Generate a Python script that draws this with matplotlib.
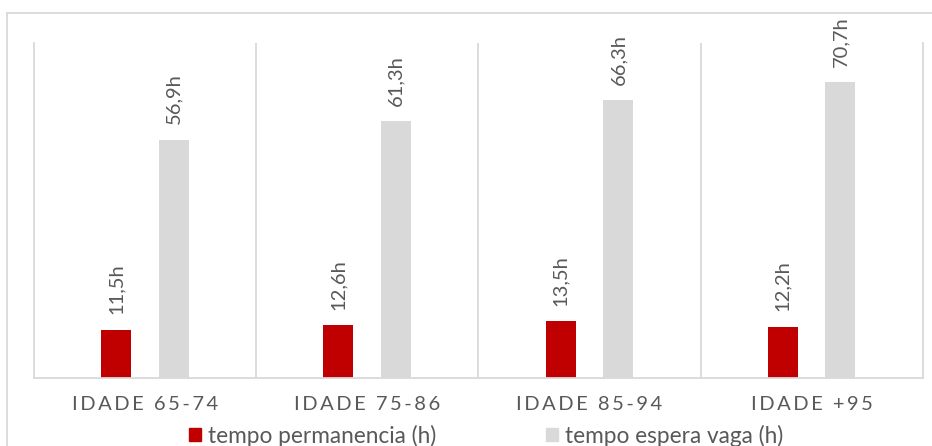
import matplotlib
matplotlib.use("Agg")
import matplotlib.pyplot as plt
from matplotlib.lines import Line2D
from matplotlib.patches import Patch
import numpy as np

categorias = ["IDADE 65-74", "IDADE 75-86", "IDADE 85-94", "IDADE +95"]
permanencia = [11.5, 12.6, 13.5, 12.2]
espera_vaga = [56.9, 61.3, 66.3, 70.7]
serie_nomes = ["tempo permanencia (h)", "tempo espera vaga (h)"]

vermelho = "#C00000"
cinza = "#D9D9D9"
texto = "#595959"
linha = "#D9D9D9"

plt.rcParams["font.family"] = ["Lato", "DejaVu Sans"]

fig = plt.figure(figsize=(9.32, 4.46), dpi=100)
ax = fig.add_axes([34 / 932, (446 - 377.7) / 446, (922.7 - 34) / 932, (377.7 - 43) / 446])

x = np.arange(len(categorias))
largura = 0.135
desloc = 0.13

b1 = ax.bar(x - desloc, permanencia, largura, color=vermelho)
b2 = ax.bar(x + desloc, espera_vaga, largura, color=cinza)

for barras, valores in ((b1, permanencia), (b2, espera_vaga)):
    for b, v in zip(barras, valores):
        ax.annotate(f"{v:.1f}h".replace(".", ","),
                    (b.get_x() + b.get_width() / 2, v),
                    xytext=(0, 11), textcoords="offset points",
                    rotation=90, ha="center", va="bottom",
                    fontsize=14.5, color=texto)

ax.set_xlim(-0.5, len(categorias) - 0.5)
ax.set_ylim(0, 80)

# linhas verticais entre categorias
for xi in np.arange(0.5, len(categorias) - 0.5, 1):
    ax.axvline(xi, color=linha, lw=1.3)

ax.spines["top"].set_visible(False)
for lado in ["left", "right", "bottom"]:
    ax.spines[lado].set_color(linha)
    ax.spines[lado].set_linewidth(1.3)


def espacar(s):
    # imita o espaçamento de letras do Excel
    sep = "\u2009"
    return sep.join(s).replace(sep + " " + sep, sep + sep + " ")


ax.set_yticks([])
ax.set_xticks(x)
ax.set_xticklabels([espacar(c) for c in categorias], fontsize=14.5, color=texto)
ax.tick_params(axis="x", length=0, pad=13)

# borda da figura
fig.add_artist(Line2D([7 / 932, 7 / 932], [0, 1 - 13 / 446], color=linha, lw=1.3))
fig.add_artist(Line2D([7 / 932, 1], [1 - 13 / 446, 1 - 13 / 446], color=linha, lw=1.3))

handles = [Patch(color=vermelho), Patch(color=cinza)]
fig.legend(handles, serie_nomes, loc="center", bbox_to_anchor=(0.5215, 1 - 435.5 / 446),
           ncol=2, frameon=False, fontsize=16.3, labelcolor=texto,
           handlelength=0.55, handleheight=0.55, handletextpad=0.3, columnspacing=4.85,
           borderaxespad=0)

fig.savefig("out.png", dpi=100)
